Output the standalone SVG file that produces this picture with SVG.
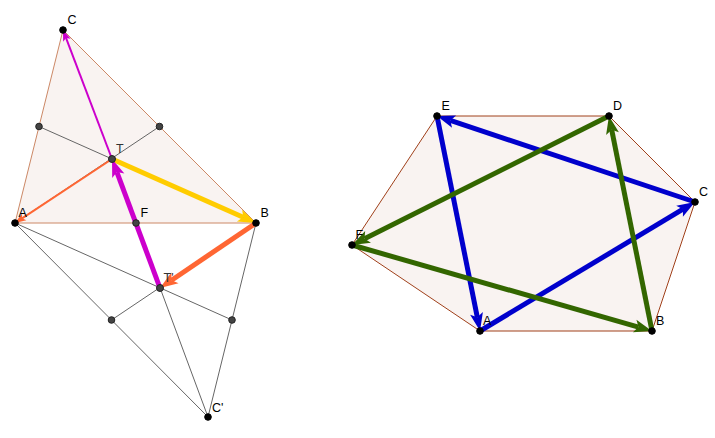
<svg xmlns="http://www.w3.org/2000/svg" width="715" height="438" viewBox="0 0 715 438">
<style>
.fill{fill:#f9f3f1}
.tri{stroke:#cc8866;stroke-width:1}
.hex{stroke:#a0401a;stroke-width:1}
.g{stroke:#666;stroke-width:1;fill:none}
.thick{stroke-width:5;fill:none}
.thin{stroke-width:2;fill:none}
.pt{fill:#000;stroke:#000;stroke-width:1}
.mp{fill:#444;stroke:#222;stroke-width:1}
text{font-family:"Liberation Sans",Arial,sans-serif;font-size:12.5px;fill:#000}
.lt{fill:#333}
</style>
<defs>
<marker id="hPurT" markerUnits="userSpaceOnUse" markerWidth="20" markerHeight="14" refX="4" refY="6.5" orient="auto" overflow="visible"><path d="M0,0 L18,6.5 L0,13 L4,6.5 z" fill="#cc00cc"/></marker>
<marker id="hPur" markerUnits="userSpaceOnUse" markerWidth="12" markerHeight="9" refX="2.5" refY="4" orient="auto" overflow="visible"><path d="M0,0 L11,4 L0,8 L2.5,4 z" fill="#cc00cc"/></marker>
<marker id="hYel" markerUnits="userSpaceOnUse" markerWidth="20" markerHeight="14" refX="4" refY="6.5" orient="auto" overflow="visible"><path d="M0,0 L18,6.5 L0,13 L4,6.5 z" fill="#ffcc00"/></marker>
<marker id="hOrT" markerUnits="userSpaceOnUse" markerWidth="20" markerHeight="14" refX="4" refY="6.5" orient="auto" overflow="visible"><path d="M0,0 L18,6.5 L0,13 L4,6.5 z" fill="#ff6633"/></marker>
<marker id="hOr" markerUnits="userSpaceOnUse" markerWidth="12" markerHeight="9" refX="2.5" refY="4" orient="auto" overflow="visible"><path d="M0,0 L11,4 L0,8 L2.5,4 z" fill="#ff6633"/></marker>
<marker id="hBlu" markerUnits="userSpaceOnUse" markerWidth="20" markerHeight="14" refX="4" refY="6.5" orient="auto" overflow="visible"><path d="M0,0 L18,6.5 L0,13 L4,6.5 z" fill="#0000cc"/></marker>
<marker id="hGrn" markerUnits="userSpaceOnUse" markerWidth="20" markerHeight="14" refX="4" refY="6.5" orient="auto" overflow="visible"><path d="M0,0 L18,6.5 L0,13 L4,6.5 z" fill="#336600"/></marker>
</defs>

<g id="triangle-ABC">
<polygon class="fill tri" points="15,223 256,223 63,30"/>
</g>
<g id="hexagon">
<polygon class="fill hex" points="480,331 652,331 695,202 609,116 437,116 352,245"/>
</g>

<g id="connectors">
<g id="construction-lines">
<line class="g" x1="39" y1="126.5" x2="256" y2="223"/>
<line class="g" x1="159.5" y1="126.5" x2="15" y2="223"/>
<line class="g" x1="15" y1="223" x2="208" y2="417"/>
<line class="g" x1="256" y1="223" x2="208" y2="417"/>
<line class="g" x1="15" y1="223" x2="232" y2="320"/>
<line class="g" x1="256" y1="223" x2="111.5" y2="320"/>
<line class="g" x1="136" y1="223" x2="208" y2="417"/>
</g>
<g id="left-arrows">
<line class="thin" stroke="#cc00cc" x1="112" y1="159" x2="66" y2="37.9" marker-end="url(#hPur)"/>
<line class="thin" stroke="#ff6633" x1="112" y1="159" x2="22.1" y2="218.3" marker-end="url(#hOr)"/>
<line class="thick" stroke="#ffcc00" x1="112" y1="159" x2="243.2" y2="217.3" marker-end="url(#hYel)"/>
<line class="thick" stroke="#cc00cc" x1="160" y1="288" x2="116.9" y2="172.1" marker-end="url(#hPurT)"/>
<line class="thick" stroke="#ff6633" x1="256" y1="223" x2="171.6" y2="280.2" marker-end="url(#hOrT)"/>
</g>
<g id="right-arrows">
<line class="thick" stroke="#0000cc" x1="437" y1="116" x2="477.3" y2="317.3" marker-end="url(#hBlu)"/>
<line class="thick" stroke="#0000cc" x1="480" y1="331" x2="683" y2="209.2" marker-end="url(#hBlu)"/>
<line class="thick" stroke="#0000cc" x1="695" y1="202" x2="450.3" y2="120.4" marker-end="url(#hBlu)"/>
<line class="thick" stroke="#336600" x1="609" y1="116" x2="364.5" y2="238.7" marker-end="url(#hGrn)"/>
<line class="thick" stroke="#336600" x1="352" y1="245" x2="638.5" y2="327.1" marker-end="url(#hGrn)"/>
<line class="thick" stroke="#336600" x1="652" y1="331" x2="611.7" y2="129.7" marker-end="url(#hGrn)"/>
</g>
</g>

<g id="mid-AC"><circle class="mp" cx="39" cy="126.5" r="3.3"/></g>
<g id="mid-BC"><circle class="mp" cx="159.5" cy="126.5" r="3.3"/></g>
<g id="mid-AC2"><circle class="mp" cx="111.5" cy="320" r="3.3"/></g>
<g id="mid-BC2"><circle class="mp" cx="232" cy="320" r="3.3"/></g>
<g id="node-F-left"><circle class="mp" cx="136" cy="223" r="3.3"/><text x="140.5" y="217">F</text></g>
<g id="node-T"><circle class="mp" cx="112" cy="159" r="3.5"/><text class="lt" x="116" y="153">T</text></g>
<g id="node-T2"><circle class="mp" cx="160" cy="288" r="3.5"/><text class="lt" x="163.5" y="282">T'</text></g>
<g id="node-A-left"><circle class="pt" cx="15" cy="223" r="3.3"/><text x="18.5" y="217">A</text></g>
<g id="node-B-left"><circle class="pt" cx="256" cy="223" r="3.3"/><text x="260.5" y="217">B</text></g>
<g id="node-C-left"><circle class="pt" cx="63" cy="30" r="3.3"/><text x="67.5" y="24">C</text></g>
<g id="node-C2"><circle class="pt" cx="208" cy="417" r="3.3"/><text x="212" y="412">C'</text></g>

<g id="node-E"><circle class="pt" cx="437" cy="116" r="3.3"/><text x="441.5" y="110">E</text></g>
<g id="node-D"><circle class="pt" cx="609" cy="116" r="3.3"/><text x="613" y="110">D</text></g>
<g id="node-C"><circle class="pt" cx="695" cy="202" r="3.3"/><text x="699" y="196">C</text></g>
<g id="node-B"><circle class="pt" cx="652" cy="331" r="3.3"/><text x="656" y="324.5">B</text></g>
<g id="node-A"><circle class="pt" cx="480" cy="331" r="3.3"/><text x="483" y="324.5">A</text></g>
<g id="node-F"><circle class="pt" cx="352" cy="245" r="3.3"/><text x="355.5" y="239">F</text></g>
</svg>
